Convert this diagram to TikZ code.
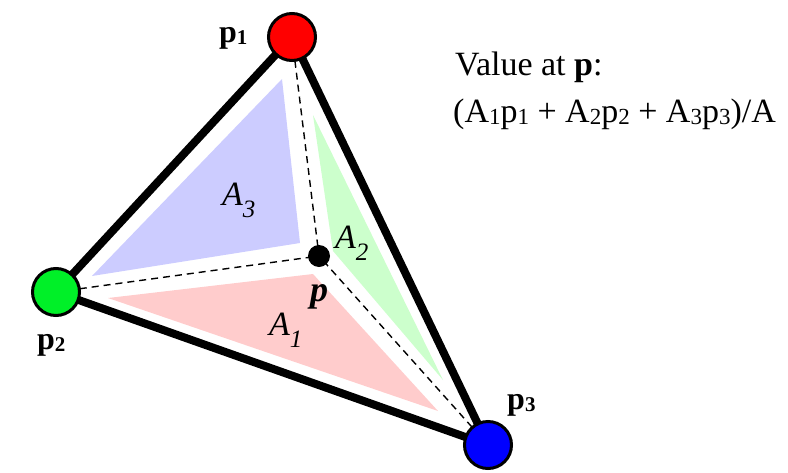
\documentclass[tikz,border=0pt]{standalone}
\usepackage{fontspec}
\setmainfont{Liberation Serif}
\newcommand{\fsub}[1]{\raisebox{-2pt}{\fontsize{23}{23}\selectfont #1}}
\newcommand{\psub}[1]{\raisebox{-2pt}{\fontsize{21}{21}\selectfont #1}}
\newcommand{\asub}[1]{\raisebox{-12pt}{\fontsize{25}{25}\selectfont\itshape #1}}
\definecolor{rblue}{RGB}{204,204,255}
\definecolor{rgreen}{RGB}{204,255,204}
\definecolor{rred}{RGB}{255,204,204}
\definecolor{cgreen}{RGB}{0,240,40}
\begin{document}
\begin{tikzpicture}[x=1pt,y=-1pt,
  vert/.style={circle, draw=black, line width=3pt, minimum size=47pt, inner sep=0pt},
  edgeline/.style={line width=8pt},
  dashline/.style={dash pattern=on 7pt off 5pt, line width=1.4pt},
  vlab/.style={font=\fontsize{32}{32}\selectfont\bfseries, inner sep=0pt, anchor=base west},
  alab/.style={font=\fontsize{34}{34}\selectfont\itshape, inner sep=0pt, anchor=base west},
  txt/.style={font=\fontsize{34}{34}\selectfont, inner sep=0pt, anchor=base west}]
\useasboundingbox (0,0) rectangle (788,472);
\coordinate (c1) at (292,37);
\coordinate (c2) at (56,292);
\coordinate (c3) at (488,445);
\coordinate (cp) at (319,256);
% regions
\fill[rblue] (282,79) -- (92,276) -- (300,243) -- cycle;
\fill[rgreen] (313,115) -- (333,251) -- (443,380) -- cycle;
\fill[rred] (108,298) -- (313,274) -- (438,411) -- cycle;
% dashed lines
\draw[dashline] (c1) -- (cp);
\draw[dashline] (c2) -- (cp);
\draw[dashline] (c3) -- (cp);
% edges
\draw[edgeline] (c1) -- (c2) -- (c3) -- cycle;
% vertices
\node[vert, fill=red] (p1) at (c1) {};
\node[vert, fill=cgreen] (p2) at (c2) {};
\node[vert, fill=blue] (p3) at (c3) {};
\node[circle, fill=black, minimum size=22pt, inner sep=0pt] (p) at (cp) {};
% labels
\node[vlab] (l1) at (219,42) {p\psub{1}};
\node[vlab] (l2) at (37,349) {p\psub{2}};
\node[vlab] (l3) at (507,409) {p\psub{3}};
\node[alab] (a3) at (222,205) {A\asub{3}};
\node[alab] (a2) at (335,248) {A\asub{2}};
\node[alab] (a1) at (269,335) {A\asub{1}};
\node[font=\fontsize{36}{36}\selectfont\bfseries\itshape, inner sep=0pt, anchor=base] (pl) at (319,301) {p};
\node[txt] (t1) at (455,75) {Value at \textbf{p}:};
\node[txt] (t2) at (453,122) {(A\fsub{1}p\fsub{1} + A\fsub{2}p\fsub{2} + A\fsub{3}p\fsub{3})/A};
\end{tikzpicture}
\end{document}
